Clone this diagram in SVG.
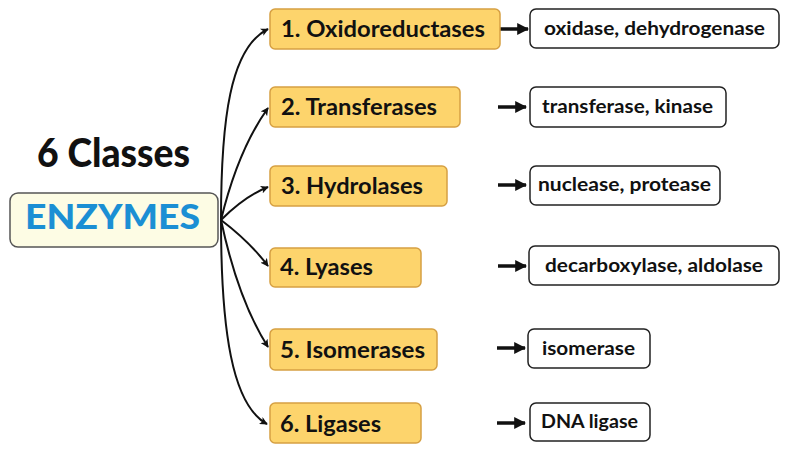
<svg xmlns="http://www.w3.org/2000/svg" width="800" height="450" viewBox="0 0 800 450">
<defs>
<marker id="tip" viewBox="0 0 10 10" refX="9" refY="5" markerWidth="8" markerHeight="8" markerUnits="userSpaceOnUse" orient="auto">
<path d="M0,0 L10,5 L0,10 L2.5,5 Z" fill="#111"/>
</marker>
<marker id="big" viewBox="0 0 10 10" refX="9" refY="5" markerWidth="12" markerHeight="12" markerUnits="userSpaceOnUse" orient="auto">
<path d="M0,0 L10,5 L0,10 Z" fill="#111"/>
</marker>
<style>
text{font-family:Lato,"Open Sans","Liberation Sans",sans-serif;font-weight:bold;fill:#111}
.cls{fill:#FDD46C;stroke:#D6A043;stroke-width:1.5}
.ex{fill:#fff;stroke:#222;stroke-width:1.5}
.ct{font-size:22.5px}
.et{font-size:19px}
.cur{fill:none;stroke:#111;stroke-width:2;marker-end:url(#tip)}
.sh{fill:none;stroke:#111;stroke-width:3.5;marker-end:url(#big)}
</style>
</defs>
<rect width="800" height="450" fill="#fff"/>
<g id="title"><text x="37" y="167" font-size="40" style="font-weight:900" textLength="153" lengthAdjust="spacingAndGlyphs">6 Classes</text></g>
<g id="enzymes">
<rect x="10" y="193" width="208" height="54" rx="8" fill="#FDFCE4" stroke="#555" stroke-width="1.5"/>
<text x="25" y="229" font-size="35" style="fill:#1B8FD4;font-weight:900" textLength="175" lengthAdjust="spacingAndGlyphs">ENZYMES</text>
</g>
<g id="connectors">
<path class="cur" d="M221,220 C221,120 230,48 268,29"/>
<path class="cur" d="M221,220 Q238,150 268,108"/>
<path class="cur" d="M221,220 Q245,196 268,187"/>
<path class="cur" d="M221,220 Q250,242 268,266"/>
<path class="cur" d="M221,220 Q238,300 268,347"/>
<path class="cur" d="M221,220 C221,330 232,405 267,424"/>
<path class="sh" d="M500,29 L528,29"/>
<path class="sh" d="M498,107 L526,107"/>
<path class="sh" d="M498,185 L526,185"/>
<path class="sh" d="M498,266 L526,266"/>
<path class="sh" d="M497,348 L525,348"/>
<path class="sh" d="M497,423 L525,423"/>
</g>
<g id="c1"><rect class="cls" x="270" y="9" width="230" height="40" rx="5"/><text class="ct" x="281" y="37" textLength="204" lengthAdjust="spacingAndGlyphs">1. Oxidoreductases</text></g>
<g id="c2"><rect class="cls" x="270" y="87" width="190" height="40" rx="5"/><text class="ct" x="281" y="115" textLength="156" lengthAdjust="spacingAndGlyphs">2. Transferases</text></g>
<g id="c3"><rect class="cls" x="270" y="166" width="177" height="40" rx="5"/><text class="ct" x="281" y="194" textLength="142" lengthAdjust="spacingAndGlyphs">3. Hydrolases</text></g>
<g id="c4"><rect class="cls" x="270" y="248" width="151" height="39" rx="5"/><text class="ct" x="280" y="275" textLength="93" lengthAdjust="spacingAndGlyphs">4. Lyases</text></g>
<g id="c5"><rect class="cls" x="270" y="329" width="167" height="41" rx="5"/><text class="ct" x="280" y="358" textLength="145" lengthAdjust="spacingAndGlyphs">5. Isomerases</text></g>
<g id="c6"><rect class="cls" x="270" y="403" width="151" height="40" rx="5"/><text class="ct" x="280" y="432" textLength="101" lengthAdjust="spacingAndGlyphs">6. Ligases</text></g>
<g id="e1"><rect class="ex" x="530" y="9" width="249" height="39" rx="6"/><text class="et" x="544" y="35" textLength="221" lengthAdjust="spacingAndGlyphs">oxidase, dehydrogenase</text></g>
<g id="e2"><rect class="ex" x="530" y="87" width="196" height="40" rx="6"/><text class="et" x="542" y="113" textLength="171" lengthAdjust="spacingAndGlyphs">transferase, kinase</text></g>
<g id="e3"><rect class="ex" x="530" y="166" width="190" height="39" rx="6"/><text class="et" x="538" y="191" textLength="173" lengthAdjust="spacingAndGlyphs">nuclease, protease</text></g>
<g id="e4"><rect class="ex" x="529" y="246" width="250" height="39" rx="6"/><text class="et" x="545" y="272" textLength="218" lengthAdjust="spacingAndGlyphs">decarboxylase, aldolase</text></g>
<g id="e5"><rect class="ex" x="528" y="329" width="122" height="39" rx="6"/><text class="et" x="542" y="355" textLength="93" lengthAdjust="spacingAndGlyphs">isomerase</text></g>
<g id="e6"><rect class="ex" x="530" y="403" width="120" height="38" rx="6"/><text class="et" x="541" y="428" textLength="97" lengthAdjust="spacingAndGlyphs">DNA ligase</text></g>
</svg>
